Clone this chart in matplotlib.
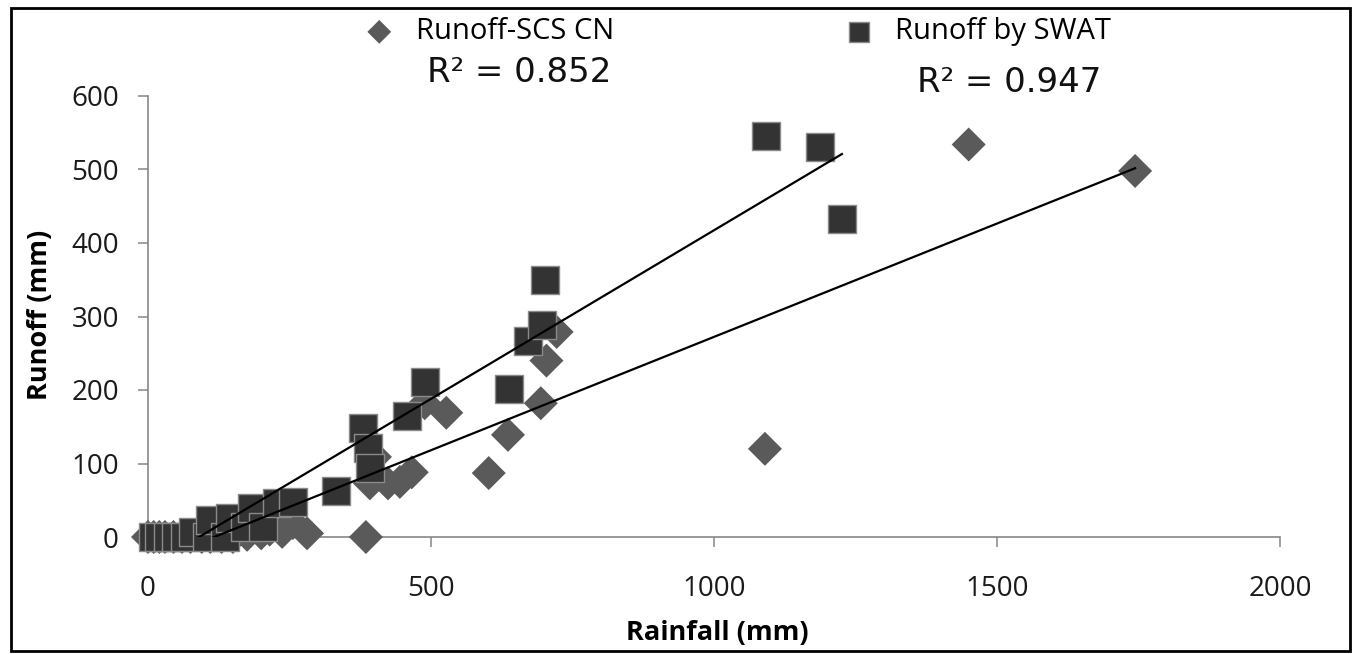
import numpy as np
import matplotlib.pyplot as plt
from matplotlib.patches import Rectangle

# Runoff-SCS CN (diamonds)
scs_rain = [0, 10, 20, 30, 45, 60, 75, 95, 110, 130, 150, 175, 200, 215, 237, 256, 281,
            385, 392, 401, 424, 445, 466, 489, 527, 602, 636, 694, 704, 722, 1090, 1450, 1744]
scs_runoff = [0, 0, 0, 0, 0, 0, 0, 0, 0, 0, 0, 3, 5, 10, 7, 19, 5,
              0, 73, 109, 73, 75, 88, 182, 169, 87, 139, 182, 240, 279, 120, 534, 498]

# Runoff by SWAT (squares)
swat_rain = [9, 20, 35, 50, 65, 80, 104, 110, 136, 145, 171, 184, 203, 228, 256, 332,
             380, 389, 392, 458, 489, 638, 671, 696, 701, 1092, 1187, 1226]
swat_runoff = [0, 0, 0, 0, 0, 7, 0, 23, 0, 26, 14, 39, 14, 46, 48, 62,
               148, 121, 94, 164, 211, 201, 267, 289, 350, 546, 531, 432]

r2_scs = "R² = 0.852"
r2_swat = "R² = 0.947"

tick_font = "Open Sans"

fig = plt.figure(figsize=(13.53, 6.54), dpi=100)
ax = fig.add_axes([148/1353, 1 - 537/654, 1132/1353, 441/654])

ax.scatter(scs_rain, scs_runoff, marker="D", s=300, color="#5a5a5a", edgecolors="none",
           clip_on=False, zorder=3, label="Runoff-SCS CN")
ax.scatter(swat_rain, swat_runoff, marker="s", s=420, color="#333333", edgecolors="#8a8a8a",
           linewidths=1.0, clip_on=False, zorder=4, label="Runoff by SWAT")

# linear trendlines
for xs, ys in [(scs_rain, scs_runoff), (swat_rain, swat_runoff)]:
    k, b = np.polyfit(xs, ys, 1)
    xx = np.array([min(xs), max(xs)])
    ax.plot(xx, k * xx + b, color="black", lw=1.6, zorder=5)

ax.set_xlim(0, 2000)
ax.set_ylim(0, 600)
ax.set_xticks([0, 500, 1000, 1500, 2000])
ax.set_yticks([0, 100, 200, 300, 400, 500, 600])

for s in ["top", "right"]:
    ax.spines[s].set_visible(False)
for s in ["left", "bottom"]:
    ax.spines[s].set_color("#868686")
    ax.spines[s].set_linewidth(1.2)

ax.tick_params(axis="both", direction="out", length=7, width=1.1, color="#868686",
               labelsize=20, labelcolor="#1a1a1a")
ax.tick_params(axis="x", pad=20)
ax.tick_params(axis="y", pad=14)
for lab in ax.get_xticklabels() + ax.get_yticklabels():
    lab.set_fontfamily(tick_font)

ax.set_xlabel("Rainfall (mm)", fontsize=19.5, fontweight="bold", family=tick_font, va="center")
ax.set_ylabel("Runoff (mm)", fontsize=19.5, fontweight="bold", family=tick_font, va="center")
ax.xaxis.set_label_coords(0.503, -0.218)
ax.yaxis.set_label_coords(-0.0954, 0.503)

leg = ax.legend(loc="center", bbox_to_anchor=((738 - 148) / 1132, (537 - 32) / 441), ncol=2,
                frameon=False, handlelength=1.0, handletextpad=0.75, columnspacing=7.9,
                prop={"family": tick_font, "size": 21}, markerscale=0.7)

fig.text(519 / 1353, 1 - 72 / 654, r2_scs, fontsize=24.5, family="DejaVu Sans",
         ha="center", va="center", color="#111111")
fig.text(1009 / 1353, 1 - 82 / 654, r2_swat, fontsize=24.5, family="DejaVu Sans",
         ha="center", va="center", color="#111111")

# outer chart border
fig.patches.append(Rectangle((11 / 1353, 1 - 651 / 654), 1339 / 1353, 643 / 654,
                             transform=fig.transFigure, fill=False, edgecolor="black",
                             lw=2.0))

fig.savefig("out.png", dpi=100)
